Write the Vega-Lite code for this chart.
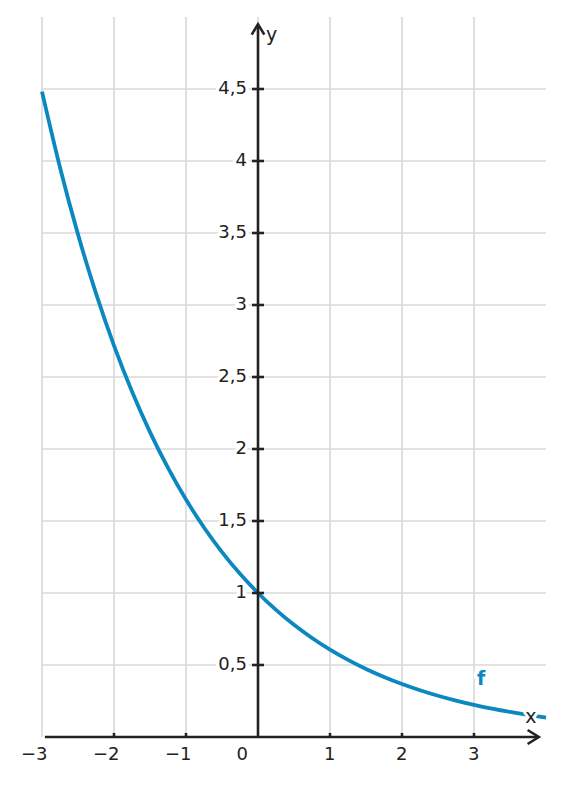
{
  "$schema": "https://vega.github.io/schema/vega-lite/v6.json",
  "width": 504,
  "height": 720,
  "autosize": {"type": "none"},
  "padding": {"left": 42, "top": 17, "right": 17, "bottom": 48},
  "background": "white",
  "config": {"view": {"stroke": null}, "axis": {"disable": true}},
  "layer": [
    {
      "data": {"values": [{"x": -3}, {"x": -2}, {"x": -1}, {"x": 0}, {"x": 1}, {"x": 2}, {"x": 3}]},
      "mark": {"type": "rule", "color": "#d8d8d8", "strokeWidth": 1.6},
      "encoding": {
        "x": {"field": "x", "type": "quantitative", "scale": {"domain": [-3, 4], "nice": false, "zero": false}, "axis": null}
      }
    },
    {
      "data": {"values": [{"y": 0.5}, {"y": 1}, {"y": 1.5}, {"y": 2}, {"y": 2.5}, {"y": 3}, {"y": 3.5}, {"y": 4}, {"y": 4.5}]},
      "mark": {"type": "rule", "color": "#d8d8d8", "strokeWidth": 1.6},
      "encoding": {
        "y": {"field": "y", "type": "quantitative", "scale": {"domain": [0, 5], "nice": false, "zero": false}, "axis": null}
      }
    },
    {
      "data": {"values": [
        {"x": -3, "y": 4.4817}, {"x": -2.75, "y": 3.9551}, {"x": -2.5, "y": 3.4903}, {"x": -2.25, "y": 3.0802},
        {"x": -2, "y": 2.7183}, {"x": -1.75, "y": 2.3989}, {"x": -1.5, "y": 2.117}, {"x": -1.25, "y": 1.8682},
        {"x": -1, "y": 1.6487}, {"x": -0.75, "y": 1.455}, {"x": -0.5, "y": 1.284}, {"x": -0.25, "y": 1.1331},
        {"x": 0, "y": 1}, {"x": 0.25, "y": 0.8825}, {"x": 0.5, "y": 0.7788}, {"x": 0.75, "y": 0.6873},
        {"x": 1, "y": 0.6065}, {"x": 1.25, "y": 0.5353}, {"x": 1.5, "y": 0.4724}, {"x": 1.75, "y": 0.4169},
        {"x": 2, "y": 0.3679}, {"x": 2.25, "y": 0.3247}, {"x": 2.5, "y": 0.2865}, {"x": 2.75, "y": 0.2528},
        {"x": 3, "y": 0.2231}, {"x": 3.25, "y": 0.1969}, {"x": 3.5, "y": 0.1738}, {"x": 3.75, "y": 0.1534},
        {"x": 4, "y": 0.1353}
      ]},
      "mark": {"type": "line", "color": "#0a88bf", "strokeWidth": 3.8, "interpolate": "monotone"},
      "encoding": {
        "x": {"field": "x", "type": "quantitative", "scale": {"domain": [-3, 4], "nice": false, "zero": false}, "axis": null},
        "y": {"field": "y", "type": "quantitative", "scale": {"domain": [0, 5], "nice": false, "zero": false}, "axis": null}
      }
    },
    {
      "data": {"values": [
        {"y": 0.5, "t": "0,5"}, {"y": 1, "t": "1"}, {"y": 1.5, "t": "1,5"}, {"y": 2, "t": "2"}, {"y": 2.5, "t": "2,5"},
        {"y": 3, "t": "3"}, {"y": 3.5, "t": "3,5"}, {"y": 4, "t": "4"}, {"y": 4.5, "t": "4,5"}
      ]},
      "mark": {"type": "text", "align": "right", "baseline": "middle", "dx": -11, "font": "DejaVu Sans", "fontSize": 18, "fill": "white", "stroke": "white", "strokeWidth": 7, "strokeJoin": "round"},
      "encoding": {
        "x": {"datum": 0, "type": "quantitative", "scale": {"domain": [-3, 4], "nice": false, "zero": false}, "axis": null},
        "y": {"field": "y", "type": "quantitative", "scale": {"domain": [0, 5], "nice": false, "zero": false}, "axis": null},
        "text": {"field": "t"}
      }
    },
    {
      "data": {"values": [
        {"y": 0.5, "t": "0,5"}, {"y": 1, "t": "1"}, {"y": 1.5, "t": "1,5"}, {"y": 2, "t": "2"}, {"y": 2.5, "t": "2,5"},
        {"y": 3, "t": "3"}, {"y": 3.5, "t": "3,5"}, {"y": 4, "t": "4"}, {"y": 4.5, "t": "4,5"}
      ]},
      "mark": {"type": "text", "align": "right", "baseline": "middle", "dx": -11, "font": "DejaVu Sans", "fontSize": 18, "color": "#222222"},
      "encoding": {
        "x": {"datum": 0, "type": "quantitative", "scale": {"domain": [-3, 4], "nice": false, "zero": false}, "axis": null},
        "y": {"field": "y", "type": "quantitative", "scale": {"domain": [0, 5], "nice": false, "zero": false}, "axis": null},
        "text": {"field": "t"}
      }
    },
    {
      "data": {"values": [
        {"x": -3, "t": "−3"}, {"x": -2, "t": "−2"}, {"x": -1, "t": "−1"}, {"x": 1, "t": "1"}, {"x": 2, "t": "2"}, {"x": 3, "t": "3"}
      ]},
      "mark": {"type": "text", "align": "right", "baseline": "middle", "dx": 5.5, "dy": 18, "font": "DejaVu Sans", "fontSize": 18, "color": "#222222"},
      "encoding": {
        "x": {"field": "x", "type": "quantitative", "scale": {"domain": [-3, 4], "nice": false, "zero": false}, "axis": null},
        "y": {"datum": 0, "type": "quantitative", "scale": {"domain": [0, 5], "nice": false, "zero": false}, "axis": null},
        "text": {"field": "t"}
      }
    },
    {
      "data": {"values": [{"x": 0, "t": "0"}]},
      "mark": {"type": "text", "align": "right", "baseline": "middle", "dx": -10, "dy": 18, "font": "DejaVu Sans", "fontSize": 18, "color": "#222222"},
      "encoding": {
        "x": {"field": "x", "type": "quantitative", "scale": {"domain": [-3, 4], "nice": false, "zero": false}, "axis": null},
        "y": {"datum": 0, "type": "quantitative", "scale": {"domain": [0, 5], "nice": false, "zero": false}, "axis": null},
        "text": {"field": "t"}
      }
    },
    {
      "data": {"values": [{"x": 3.1, "y": 0.36, "t": "f"}]},
      "mark": {"type": "text", "align": "center", "baseline": "alphabetic", "font": "DejaVu Sans", "fontSize": 19, "fontWeight": "bold", "fill": "white", "stroke": "white", "strokeWidth": 7, "strokeJoin": "round"},
      "encoding": {
        "x": {"field": "x", "type": "quantitative", "scale": {"domain": [-3, 4], "nice": false, "zero": false}, "axis": null},
        "y": {"field": "y", "type": "quantitative", "scale": {"domain": [0, 5], "nice": false, "zero": false}, "axis": null},
        "text": {"field": "t"}
      }
    },
    {
      "data": {"values": [{"x": 3.1, "y": 0.36, "t": "f"}]},
      "mark": {"type": "text", "align": "center", "baseline": "alphabetic", "font": "DejaVu Sans", "fontSize": 19, "fontWeight": "bold", "color": "#0a88bf"},
      "encoding": {
        "x": {"field": "x", "type": "quantitative", "scale": {"domain": [-3, 4], "nice": false, "zero": false}, "axis": null},
        "y": {"field": "y", "type": "quantitative", "scale": {"domain": [0, 5], "nice": false, "zero": false}, "axis": null},
        "text": {"field": "t"}
      }
    },
    {
      "data": {"values": [{"x": 3.79, "y": 0.1, "t": "x"}]},
      "mark": {"type": "text", "align": "center", "baseline": "alphabetic", "font": "DejaVu Sans", "fontSize": 19, "fill": "white", "stroke": "white", "strokeWidth": 6, "strokeJoin": "round"},
      "encoding": {
        "x": {"field": "x", "type": "quantitative", "scale": {"domain": [-3, 4], "nice": false, "zero": false}, "axis": null},
        "y": {"field": "y", "type": "quantitative", "scale": {"domain": [0, 5], "nice": false, "zero": false}, "axis": null},
        "text": {"field": "t"}
      }
    },
    {
      "data": {"values": [{"x": 3.79, "y": 0.1, "t": "x"}, {"x": 0.19, "y": 4.83, "t": "y"}]},
      "mark": {"type": "text", "align": "center", "baseline": "alphabetic", "font": "DejaVu Sans", "fontSize": 19, "color": "#222222"},
      "encoding": {
        "x": {"field": "x", "type": "quantitative", "scale": {"domain": [-3, 4], "nice": false, "zero": false}, "axis": null},
        "y": {"field": "y", "type": "quantitative", "scale": {"domain": [0, 5], "nice": false, "zero": false}, "axis": null},
        "text": {"field": "t"}
      }
    },
    {
      "data": {"values": [{"x1": -2.96, "x2": 3.88, "y1": 0, "y2": 0}, {"x1": 0, "x2": 0, "y1": 0, "y2": 4.93}]},
      "mark": {"type": "rule", "color": "#222222", "strokeWidth": 2.6},
      "encoding": {
        "x": {"field": "x1", "type": "quantitative", "scale": {"domain": [-3, 4], "nice": false, "zero": false}, "axis": null},
        "x2": {"field": "x2"},
        "y": {"field": "y1", "type": "quantitative", "scale": {"domain": [0, 5], "nice": false, "zero": false}, "axis": null},
        "y2": {"field": "y2"}
      }
    },
    {
      "data": {"values": [{"y": 0.5}, {"y": 1}, {"y": 1.5}, {"y": 2}, {"y": 2.5}, {"y": 3}, {"y": 3.5}, {"y": 4}, {"y": 4.5}]},
      "mark": {"type": "point", "shape": "M-1,0L1,0", "size": 144, "filled": false, "opacity": 1, "stroke": "#222222", "strokeWidth": 2.6},
      "encoding": {
        "x": {"datum": 0, "type": "quantitative", "scale": {"domain": [-3, 4], "nice": false, "zero": false}, "axis": null},
        "y": {"field": "y", "type": "quantitative", "scale": {"domain": [0, 5], "nice": false, "zero": false}, "axis": null}
      }
    },
    {
      "data": {"values": [{"x": -2}, {"x": -1}, {"x": 1}, {"x": 2}, {"x": 3}]},
      "mark": {"type": "point", "shape": "M0,0L0,-1", "size": 64, "filled": false, "opacity": 1, "stroke": "#222222", "strokeWidth": 2.6},
      "encoding": {
        "x": {"field": "x", "type": "quantitative", "scale": {"domain": [-3, 4], "nice": false, "zero": false}, "axis": null},
        "y": {"datum": 0, "type": "quantitative", "scale": {"domain": [0, 5], "nice": false, "zero": false}, "axis": null}
      }
    },
    {
      "data": {"values": [{"x": 3.9, "y": 0}]},
      "mark": {"type": "point", "shape": "M-1.6,-1L0,0L-1.6,1", "size": 196, "filled": false, "opacity": 1, "stroke": "#222222", "strokeWidth": 2.6},
      "encoding": {
        "x": {"field": "x", "type": "quantitative", "scale": {"domain": [-3, 4], "nice": false, "zero": false}, "axis": null},
        "y": {"field": "y", "type": "quantitative", "scale": {"domain": [0, 5], "nice": false, "zero": false}, "axis": null}
      }
    },
    {
      "data": {"values": [{"x": 0, "y": 4.95}]},
      "mark": {"type": "point", "shape": "M-0.9,1.5L0,0L0.9,1.5", "size": 196, "filled": false, "opacity": 1, "stroke": "#222222", "strokeWidth": 2.6},
      "encoding": {
        "x": {"field": "x", "type": "quantitative", "scale": {"domain": [-3, 4], "nice": false, "zero": false}, "axis": null},
        "y": {"field": "y", "type": "quantitative", "scale": {"domain": [0, 5], "nice": false, "zero": false}, "axis": null}
      }
    }
  ]
}
